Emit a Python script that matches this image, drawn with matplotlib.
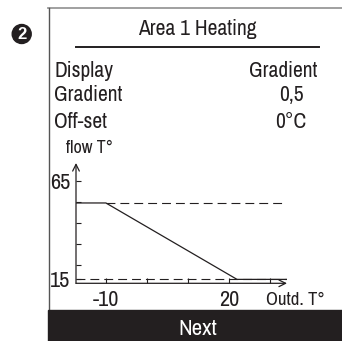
import matplotlib
matplotlib.use("Agg")
import matplotlib.pyplot as plt
from matplotlib.patches import Rectangle, Circle

# condensed sans first, regular sans as fallback
plt.rcParams['font.family'] = ['Archivo Narrow', 'PT Sans Narrow', 'Roboto Condensed',
                               'Liberation Sans', 'DejaVu Sans']

# screen texts
title = "Area 1 Heating"
row_labels = ["Display", "Gradient", "Off-set"]
row_values = ["Gradient", "0,5", "0°C"]
button = "Next"
step = "2"

# heating curve (outdoor T vs flow T)
curve_x = [-17.3, -10, 22, 34.2]
curve_y = [54, 54, 15, 15]
t_max = 54      # upper limit (dashed)
t_min = 15      # lower limit (dashed)
x_lim = (-17.3, 34.2)
y_lim = (13, 74.4)
x_ticks = [-10, 0, 10, 20, 30]
x_tick_labels = ["-10", "", "", "20", ""]
y_ticks = [15, 22.3, 33, 43.7, 54.3, 65]
y_tick_labels = ["15", "", "", "", "", "65"]

ink = '#231f20'
W, H = 342, 341
fig = plt.figure(figsize=(W / 100, H / 100), dpi=100)

# background layer in pixel coordinates
bg = fig.add_axes([0, 0, 1, 1])
bg.set_xlim(0, W)
bg.set_ylim(H, 0)
bg.axis('off')

bg.plot([48, W], [8, 8], color='#999999', lw=1.3)
bg.plot([48.5, 48.5], [8, 311], color='#555555', lw=1.0)
bg.add_patch(Rectangle((48, 310), W - 48, H - 310, color=ink, zorder=3))
bg.text(198, 335, button, color='white', fontsize=16.5, ha='center', va='baseline', zorder=4)

bg.add_patch(Circle((21.7, 34), 9.5, color=ink))
bg.text(21.7, 34.5, step, color='white', fontsize=12, fontweight='bold', ha='center', va='center',
        family='Liberation Sans')

bg.text(197, 35, title, color=ink, fontsize=15.5, ha='center', va='baseline')
bg.plot([76, 319], [46.5, 46.5], color=ink, lw=1.4)

row_y = [77, 101, 128]
val_x = [283, 291, 291]
for lab, val, yy, vx in zip(row_labels, row_values, row_y, val_x):
    bg.text(54, yy, lab, color=ink, fontsize=15.5, ha='left', va='baseline')
    bg.text(vx, yy, val, color=ink, fontsize=15.5, ha='center', va='baseline')

bg.text(90, 153, "flow T°", color=ink, fontsize=13, ha='center', va='baseline')
bg.text(295, 305, "Outd. T°", color=ink, fontsize=13.5, ha='center', va='baseline')

# chart layer
left, right = 76 / W, 287 / W
bottom, top = (H - 283.3) / H, (H - 163) / H
ax = fig.add_axes([left, bottom, right - left, top - bottom])
ax.patch.set_alpha(0)
ax.set_xlim(*x_lim)
ax.set_ylim(*y_lim)
for s in ax.spines.values():
    s.set_visible(False)

ax.annotate('', xy=(x_lim[1], y_lim[0]), xytext=(x_lim[0], y_lim[0]),
            arrowprops=dict(arrowstyle='->', color=ink, lw=0.9, mutation_scale=12,
                            shrinkA=0, shrinkB=0), annotation_clip=False)
ax.annotate('', xy=(x_lim[0], y_lim[1]), xytext=(x_lim[0], y_lim[0]),
            arrowprops=dict(arrowstyle='->', color=ink, lw=0.9, mutation_scale=12,
                            shrinkA=0, shrinkB=0), annotation_clip=False)

ax.plot([-10, x_lim[1]], [t_max, t_max], color=ink, lw=0.8, ls=(0, (8, 4.5)))
ax.plot([x_lim[0], x_lim[1]], [t_min, t_min], color=ink, lw=0.8, ls=(0, (8, 4.5)))
ax.plot(curve_x, curve_y, color=ink, lw=0.9)

ax.set_xticks(x_ticks)
ax.set_xticklabels(x_tick_labels)
ax.set_yticks(y_ticks)
ax.set_yticklabels(y_tick_labels)
ax.tick_params(axis='both', direction='in', length=3.5, width=0.8, color=ink,
               labelcolor=ink, labelsize=16)
ax.tick_params(axis='x', pad=5)
ax.tick_params(axis='y', pad=4)

fig.savefig("out.png", dpi=100)
